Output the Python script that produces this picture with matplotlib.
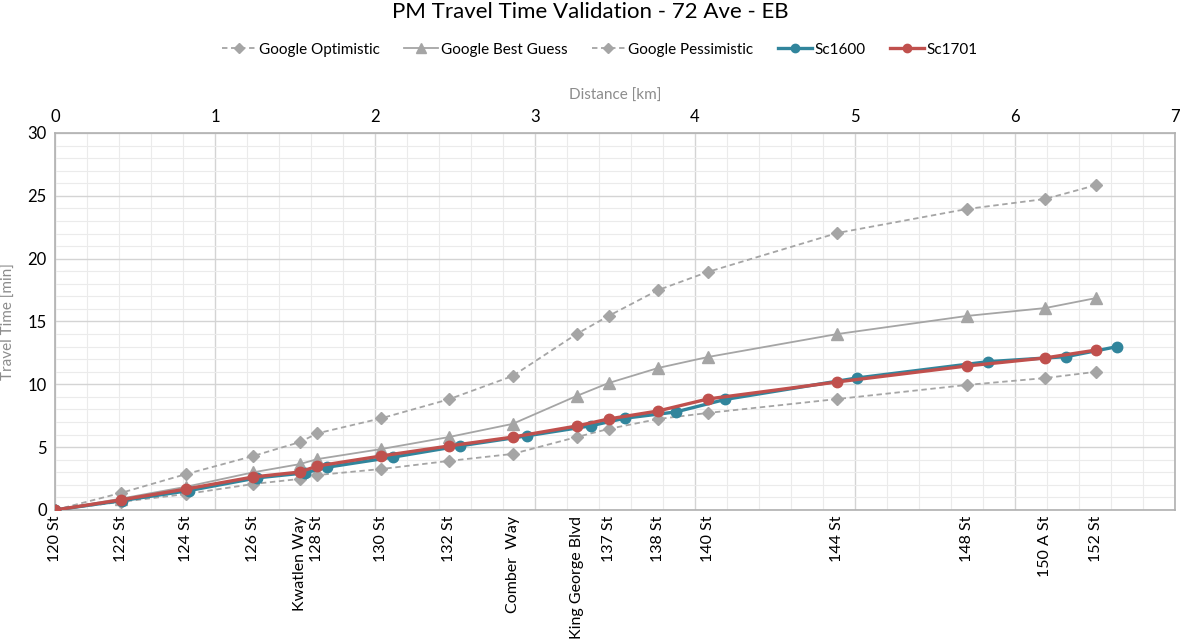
import matplotlib
matplotlib.use("Agg")
import matplotlib.pyplot as plt
from matplotlib.ticker import MultipleLocator

# ==============================
#  Dados
# ==============================

estacoes = ["120 St", "122 St", "124 St", "126 St", "Kwatlen Way", "128 St",
            "130 St", "132 St", "Comber  Way", "King George Blvd", "137 St",
            "138 St", "140 St", "144 St", "148 St", "150 A St", "152 St"]

dist_google = [0.0, 0.41, 0.82, 1.24, 1.53, 1.64, 2.04, 2.46, 2.86, 3.26,
               3.46, 3.77, 4.08, 4.89, 5.70, 6.19, 6.51]
dist_sc1600 = [0.0, 0.42, 0.84, 1.26, 1.56, 1.70, 2.11, 2.53, 2.95, 3.35,
               3.56, 3.88, 4.19, 5.01, 5.83, 6.32, 6.64]

google_otimista = [0.0, 0.64, 1.27, 2.07, 2.47, 2.78, 3.26, 3.9, 4.46, 5.8,
                   6.45, 7.24, 7.72, 8.83, 9.95, 10.5, 11.0]
google_melhor = [0.0, 0.9, 1.85, 3.0, 3.65, 4.05, 4.85, 5.8, 6.85, 9.07,
                 10.1, 11.3, 12.17, 14.0, 15.44, 16.07, 16.87]
google_pessimista = [0.0, 1.35, 2.86, 4.3, 5.4, 6.1, 7.3, 8.8, 10.66, 14.0,
                     15.44, 17.5, 18.94, 22.04, 23.95, 24.75, 25.86]
sc1600 = [0.0, 0.75, 1.55, 2.55, 2.95, 3.4, 4.2, 5.1, 5.9, 6.7,
          7.3, 7.8, 8.8, 10.5, 11.8, 12.2, 13.0]
sc1701 = [0.0, 0.8, 1.67, 2.63, 3.02, 3.5, 4.3, 5.09, 5.8, 6.68,
          7.24, 7.88, 8.83, 10.19, 11.46, 12.1, 12.73]

CINZA = "#A5A5A5"
AZUL = "#31859C"
VERMELHO = "#C0504D"

plt.rcParams["font.family"] = ["Lato", "DejaVu Sans"]

fig = plt.figure(figsize=(11.81, 6.39), dpi=100)
ax = fig.add_axes([0.0466, 0.2019, 0.9482, 0.590])

# ==============================
#  Séries
# ==============================
ax.plot(dist_google, google_otimista, color=CINZA, ls=(0, (3, 2)), lw=1.3,
        marker="D", ms=6, label="Google Optimistic", zorder=3)
ax.plot(dist_google, google_melhor, color=CINZA, ls="-", lw=1.3,
        marker="^", ms=8.5, label="Google Best Guess", zorder=3)
ax.plot(dist_google, google_pessimista, color=CINZA, ls=(0, (3, 2)), lw=1.3,
        marker="D", ms=6, label="Google Pessimistic", zorder=3)
ax.plot(dist_sc1600, sc1600, color=AZUL, lw=2.4, marker="o", ms=7.5,
        label="Sc1600", zorder=4)
ax.plot(dist_google, sc1701, color=VERMELHO, lw=2.4, marker="o", ms=7.5,
        label="Sc1701", zorder=5)

# ==============================
#  Eixos e grade
# ==============================
ax.set_xlim(0, 7)
ax.set_ylim(0, 30)
ax.xaxis.set_major_locator(MultipleLocator(1))
ax.xaxis.set_minor_locator(MultipleLocator(0.2))
ax.yaxis.set_major_locator(MultipleLocator(5))
ax.yaxis.set_minor_locator(MultipleLocator(1))
ax.grid(which="major", color="#D4D4D4", lw=1.0, zorder=0)
ax.grid(which="minor", color="#EBEBEB", lw=0.8, zorder=0)
ax.set_axisbelow(True)

ax.xaxis.tick_top()
ax.xaxis.set_label_position("top")
ax.set_xlabel("Distance [km]", color="#8C8C8C", fontsize=11, labelpad=6)
ax.set_ylabel("Travel Time [min]", color="#8C8C8C", fontsize=11, labelpad=8)
ax.tick_params(which="both", length=0, labelsize=12, pad=6)

for s in ax.spines.values():
    s.set_color("#B0B0B0")
    s.set_linewidth(1.2)

# rótulos das estações embaixo
sec = ax.secondary_xaxis("bottom")
sec.set_xticks(dist_google)
sec.set_xticklabels(estacoes, rotation=90, fontsize=11.5)
sec.tick_params(length=0, pad=4)
sec.spines["bottom"].set_visible(False)

fig.suptitle("PM Travel Time Validation - 72 Ave - EB", y=0.997, fontsize=16)
leg = fig.legend(loc="upper center", bbox_to_anchor=(0.508, 0.955), ncol=5,
                 frameon=False, fontsize=11, handlelength=2.2,
                 columnspacing=1.6, handletextpad=0.2, markerscale=0.8)

fig.savefig("out.png", dpi=100)
